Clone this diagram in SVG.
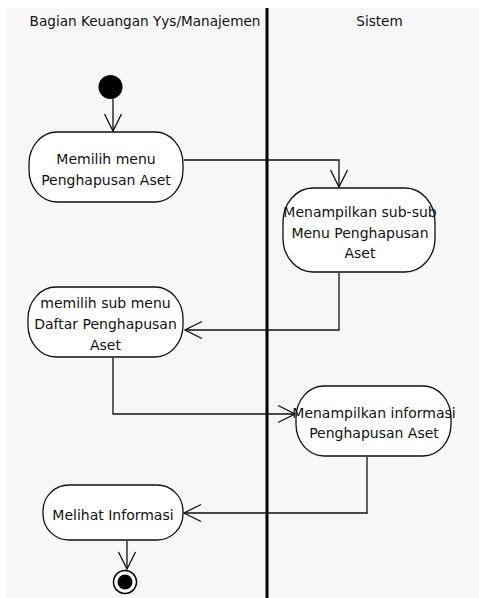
<svg xmlns="http://www.w3.org/2000/svg" width="479" height="598" viewBox="0 0 479 598">
<defs>
<style>
.t{font-family:"DejaVu Sans","Liberation Sans",sans-serif;font-size:14px;fill:#111;text-anchor:middle}
.h{font-size:13.6px}
.act{fill:#ffffff;stroke:#111;stroke-width:1.3}
.c{fill:none;stroke:#111;stroke-width:1.3;marker-end:url(#ah)}
</style>
<marker id="ah" viewBox="-19 -10 21 20" refX="0" refY="0" markerWidth="21" markerHeight="20" markerUnits="userSpaceOnUse" orient="auto">
<path d="M-17,-8.5 L0,0 L-17,8.5" fill="none" stroke="#111" stroke-width="1.3"/>
</marker>
</defs>
<rect x="0" y="0" width="479" height="598" fill="#ffffff"/>
<rect x="7" y="8" width="472" height="590" fill="#f7f7f7"/>
<g id="lanes">
<line x1="267" y1="8" x2="267" y2="598" stroke="#000" stroke-width="3"/>
<text class="t h" x="145" y="26">Bagian Keuangan Yys/Manajemen</text>
<text class="t h" x="379.5" y="26">Sistem</text>
</g>
<g id="connectors">
<path class="c" d="M113,99 V131"/>
<path class="c" d="M184,160 H339 V187"/>
<path class="c" d="M339,273 V330 H185"/>
<path class="c" d="M113,358 V414 H295"/>
<path class="c" d="M367,457 V513 H184"/>
<path class="c" d="M127,541 V569"/>
</g>
<g id="start">
<circle cx="110.5" cy="87" r="12" fill="#000"/>
</g>
<g id="a1">
<rect class="act" x="29" y="132" width="154" height="70" rx="28" ry="32"/>
<text class="t" x="106" y="164">Memilih menu</text>
<text class="t" x="106" y="185">Penghapusan Aset</text>
</g>
<g id="a2">
<rect class="act" x="283" y="188" width="152" height="84" rx="30" ry="34"/>
<text class="t" x="360" y="217">Menampilkan sub-sub</text>
<text class="t" x="360" y="238">Menu Penghapusan</text>
<text class="t" x="360" y="258">Aset</text>
</g>
<g id="a3">
<rect class="act" x="28" y="287" width="155" height="70" rx="28" ry="32"/>
<text class="t" x="105.5" y="308">memilih sub menu</text>
<text class="t" x="105.5" y="329">Daftar Penghapusan</text>
<text class="t" x="105.5" y="350">Aset</text>
</g>
<g id="a4">
<rect class="act" x="296" y="386" width="155" height="70" rx="28" ry="32"/>
<text class="t" x="374" y="418">Menampilkan informasi</text>
<text class="t" x="374" y="438">Penghapusan Aset</text>
</g>
<g id="a5">
<rect class="act" x="43" y="485" width="140" height="55" rx="26" ry="26"/>
<text class="t" x="113" y="520">Melihat Informasi</text>
</g>
<g id="end">
<circle cx="125" cy="582" r="11.5" fill="#fff" stroke="#000" stroke-width="1.5"/>
<circle cx="125" cy="582" r="7.5" fill="#000"/>
</g>
</svg>
